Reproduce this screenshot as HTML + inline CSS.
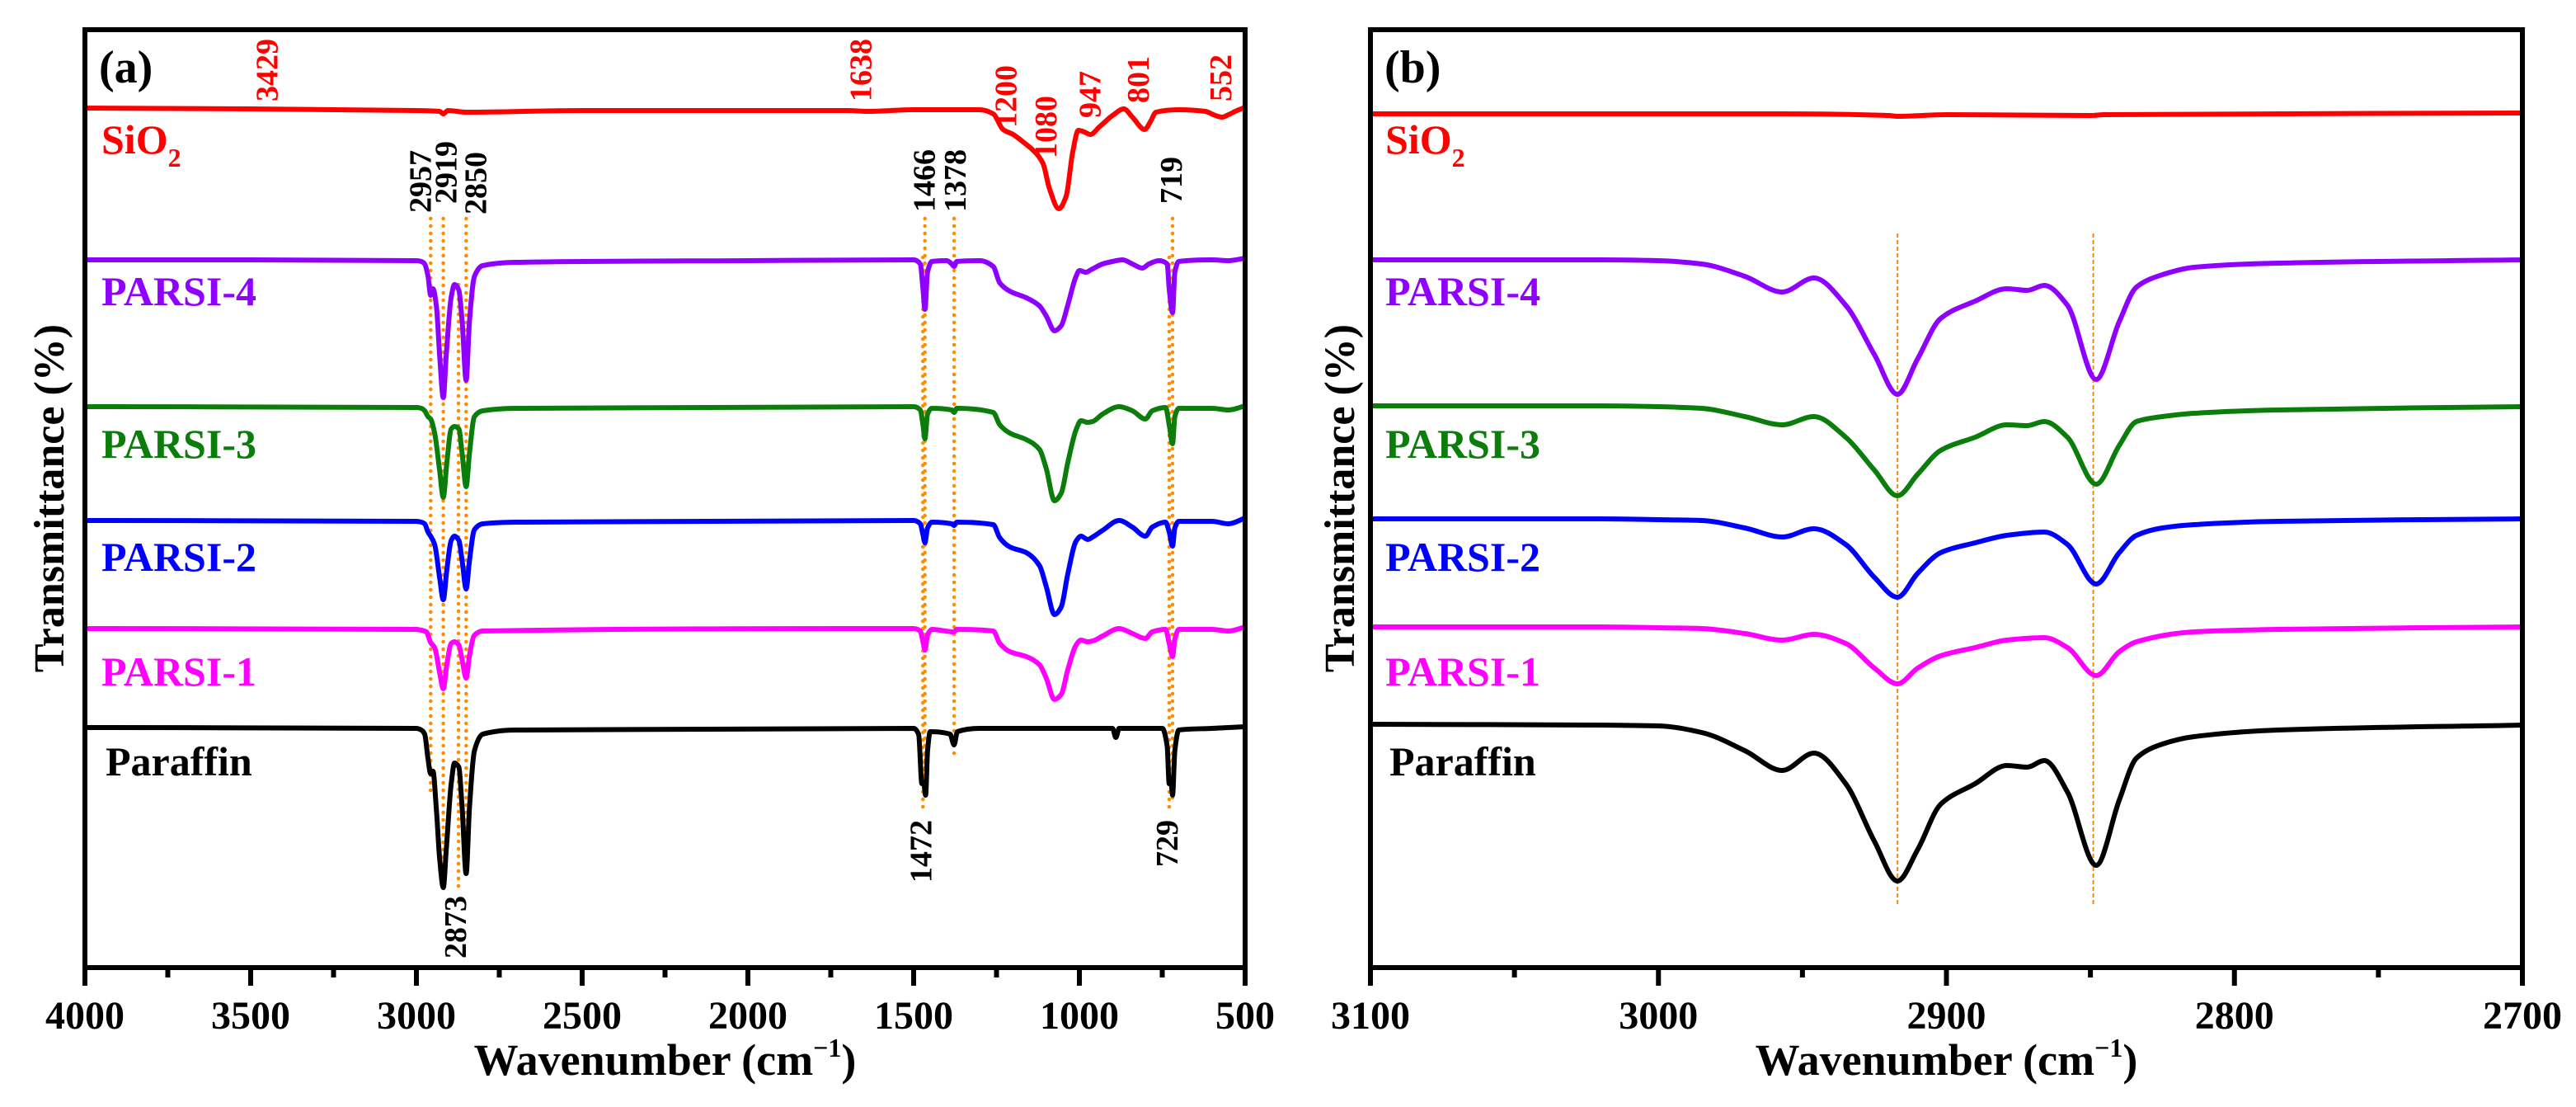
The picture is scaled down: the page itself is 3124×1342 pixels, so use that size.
<!DOCTYPE html>
<html><head><meta charset="utf-8">
<style>
html,body{margin:0;padding:0;background:#fff;}
svg{display:block;font-family:"Liberation Serif","Times New Roman",serif;font-weight:bold;}
</style></head>
<body>
<svg id="chart" width="3124" height="1342" viewBox="0 0 3124 1342" xmlns="http://www.w3.org/2000/svg"></svg>
<script>
// ---- Panel (a) data: [wavenumber, depth below baseline (a.u.)]
const aSeriesNames = ["SiO2","PARSI-4","PARSI-3","PARSI-2","PARSI-1","Paraffin"];
const aOffsets = [1041, 858, 680, 542, 411, 291];
const aSiO2 = [[4000,-1],[3500,0],[3000,2],[2930,3],[2919,6],[2905,2],[2850,4],[2500,2],[2000,2],[1700,2],[1638,3],[1500,1],[1300,1],[1260,6],[1230,25],[1200,31],[1170,40],[1140,50],[1110,66],[1090,97],[1062,121],[1040,106],[1020,52],[1003,26],[985,28],[967,31],[940,22],[900,8],[866,0],[840,10],[803,25],[785,15],[769,4],[700,1],[620,3],[590,8],[570,10],[550,7],[530,3],[500,-2]];
const aP4 = [[4000,0],[3500,0],[3000,1],[2985,2],[2975,5],[2965,20],[2957,43],[2950,35],[2940,55],[2930,115],[2919,167],[2910,115],[2895,45],[2885,30],[2872,37],[2862,75],[2850,146],[2840,75],[2825,20],[2800,7],[2700,3],[2000,1],[1500,0],[1480,5],[1472,35],[1466,60],[1458,15],[1445,2],[1400,1],[1385,5],[1378,8],[1370,2],[1300,1],[1260,8],[1240,28],[1210,38],[1160,46],[1120,56],[1100,68],[1075,86],[1055,80],[1035,55],[1010,20],[1000,13],[980,15],[965,12],[930,5],[900,2],[870,0],[840,5],[810,10],[790,5],[760,1],[735,5],[729,35],[719,64],[712,15],[700,2],[600,0],[550,1],[500,-2]];
const aP3 = [[4000,0],[3000,1],[2985,2],[2975,5],[2965,12],[2957,15],[2945,32],[2930,77],[2919,110],[2908,67],[2895,27],[2885,24],[2872,27],[2862,57],[2850,97],[2840,57],[2825,12],[2800,5],[2700,2],[1500,0],[1480,4],[1472,22],[1466,39],[1458,9],[1445,2],[1385,4],[1378,7],[1370,2],[1260,7],[1240,22],[1210,32],[1160,40],[1120,52],[1100,75],[1075,114],[1055,105],[1035,68],[1010,28],[995,17],[975,19],[960,18],[930,9],[880,0],[840,5],[801,15],[780,5],[740,1],[729,22],[719,45],[712,12],[700,2],[600,2],[550,4],[500,-1]];
const aP2 = [[4000,0],[3000,1],[2985,2],[2975,4],[2965,14],[2957,19],[2945,29],[2930,69],[2919,96],[2908,59],[2895,24],[2885,19],[2872,24],[2862,49],[2850,83],[2840,49],[2825,11],[2800,4],[2700,2],[1500,0],[1480,4],[1472,17],[1466,27],[1458,9],[1445,2],[1385,4],[1378,6],[1370,2],[1260,5],[1240,21],[1210,32],[1160,39],[1120,55],[1100,80],[1075,114],[1055,105],[1035,65],[1010,25],[995,19],[975,23],[960,20],[930,12],[880,0],[840,8],[801,19],[780,8],[740,2],[729,14],[719,31],[712,9],[700,1],[600,1],[550,4],[500,-3]];
const aP1 = [[4000,0],[3000,1],[2985,2],[2970,4],[2957,17],[2945,23],[2930,53],[2919,73],[2908,43],[2895,18],[2885,16],[2872,20],[2862,38],[2850,60],[2840,33],[2825,8],[2800,3],[1500,0],[1480,3],[1472,16],[1466,26],[1458,8],[1445,1],[1378,4],[1370,1],[1260,3],[1240,18],[1210,28],[1160,34],[1120,44],[1100,60],[1075,86],[1055,80],[1035,50],[1010,20],[995,14],[975,16],[960,15],[930,9],[880,0],[840,6],[801,12],[780,4],[740,1],[729,18],[719,34],[712,13],[700,1],[600,1],[550,3],[500,-2]];
const aParaffin = [[4000,0],[3000,1],[2985,3],[2975,8],[2965,38],[2957,56],[2950,53],[2940,98],[2930,158],[2919,194],[2910,148],[2895,68],[2885,43],[2872,48],[2862,98],[2850,177],[2840,98],[2825,28],[2800,8],[2700,3],[1500,1],[1485,8],[1475,68],[1470,66],[1464,82],[1458,28],[1450,5],[1390,8],[1378,21],[1368,5],[1300,1],[900,1],[890,12],[880,1],[750,1],[735,23],[729,68],[724,62],[719,82],[712,28],[700,3],[600,1],[500,-1]];
// ---- Panel (b) data
const bOffsets = [1035, 858, 681, 544, 413, 295];
const bSiO2 = [[3100,0],[2960,0],[2920,2],[2917,3],[2900,1],[2850,2],[2845,1],[2700,-1]];
const bP4 = [[3100,0],[3020,0],[3000,1],[2985,5],[2970,20],[2957,39],[2946,22],[2935,55],[2925,115],[2917,163],[2910,120],[2902,71],[2890,50],[2879,35],[2872,37],[2866,31],[2858,55],[2848,145],[2840,75],[2834,33],[2825,18],[2814,9],[2785,4],[2700,0]];
const bP3 = [[3100,0],[3020,0],[3000,1],[2985,3],[2970,13],[2957,23],[2946,13],[2935,38],[2925,78],[2917,109],[2910,83],[2902,54],[2890,38],[2879,23],[2872,24],[2866,19],[2858,38],[2848,95],[2840,48],[2834,19],[2825,13],[2814,9],[2785,5],[2700,1]];
const bP2 = [[3100,0],[3020,0],[3000,1],[2985,2],[2970,11],[2957,22],[2946,12],[2935,31],[2925,71],[2917,95],[2910,66],[2902,41],[2890,29],[2879,20],[2866,16],[2858,31],[2848,79],[2840,41],[2834,20],[2825,11],[2814,7],[2785,3],[2700,0]];
const bP1 = [[3100,0],[3020,0],[3000,1],[2985,2],[2970,8],[2957,16],[2946,9],[2935,20],[2925,50],[2917,69],[2910,50],[2902,35],[2890,25],[2879,16],[2866,13],[2858,25],[2848,59],[2840,30],[2834,18],[2814,6],[2785,3],[2700,0]];
const bParaffin = [[3100,0],[3020,1],[3000,2],[2985,10],[2970,32],[2957,56],[2946,35],[2935,72],[2925,142],[2917,190],[2910,152],[2902,97],[2890,72],[2879,50],[2872,52],[2866,44],[2858,82],[2848,171],[2840,92],[2834,41],[2825,24],[2814,15],[2785,7],[2700,1]];
// ---- ticks & annotations
const aTicks = [4000,3500,3000,2500,2000,1500,1000,500];
const aMinorTicks = [3750,3250,2750,2250,1750,1250,750];
const bTicks = [3100,3000,2900,2800,2700];
const bMinorTicks = [3050,2950,2850,2750];
const sio2Marks = [[3429,123],[1638,123],[1200,155],[1080,192],[947,143],[801,125],[552,123]];
const topMarks = [[2957,258,-14],[2919,247,2],[2850,260,10],[1466,257,-2],[1378,257,0],[719,247,-3]];
const bottomMarks = [[2873,1086,-5],[1472,994,-4],[729,994,-4]];
const aGuides = [[2957,265,960],[2919,265,1076],[2873,345,1080],[2850,265,1063],[1472,312,986],[1466,265,964],[1378,265,921],[729,312,986],[719,265,968]];
const bGuides = [2917,2849];

const colors = ["#ff0000","#8f00ff","#0a7d0a","#0000ff","#ff00ff","#000000"];
const labelBase = [186,370,555,692,831,940];
const NS="http://www.w3.org/2000/svg";
const svg=document.getElementById('chart');
const TOP=36, BOT=1173;
function yScale(v){return BOT - v;}
function mk(tag,attrs,parent){const e=document.createElementNS(NS,tag);for(const k in attrs)e.setAttribute(k,attrs[k]);(parent||svg).appendChild(e);return e;}
// monotone cubic (Fritsch-Carlson) through points with increasing x
function pathFrom(pts){
  const n=pts.length, dx=[], sl=[], m=[];
  for(let i=0;i<n-1;i++){dx[i]=pts[i+1][0]-pts[i][0];sl[i]=(pts[i+1][1]-pts[i][1])/dx[i];}
  m[0]=sl[0];m[n-1]=sl[n-2];
  for(let i=1;i<n-1;i++){
    if(sl[i-1]*sl[i]<=0)m[i]=0;
    else{const w1=2*dx[i]+dx[i-1],w2=dx[i]+2*dx[i-1];m[i]=(w1+w2)/(w1/sl[i-1]+w2/sl[i]);}
  }
  let d="M"+pts[0][0].toFixed(1)+","+pts[0][1].toFixed(1);
  for(let i=0;i<n-1;i++){
    const h=dx[i]/3;
    d+=" C"+(pts[i][0]+h).toFixed(1)+","+(pts[i][1]+m[i]*h).toFixed(1)+" "+(pts[i+1][0]-h).toFixed(1)+","+(pts[i+1][1]-m[i+1]*h).toFixed(1)+" "+pts[i+1][0].toFixed(1)+","+pts[i+1][1].toFixed(1);
  }
  return d;
}
function panel(cfg){
  const g=mk('g',{});
  
  
  const x=w=>cfg.L+(cfg.w0-w)*(cfg.R-cfg.L)/(cfg.w0-cfg.w1);
  cfg.guides.forEach(gd=>{
    const l=mk('line',{x1:x(gd[0]),x2:x(gd[0]),y1:gd[1],y2:gd[2],stroke:'#ff8c00','stroke-width':cfg.guideW,'stroke-dasharray':cfg.guideDash,'stroke-linecap':cfg.guideCap},g);
    
    
  });
  cfg.series.forEach((s,i)=>{
    const pts=s.map(p=>[x(p[0]),yScale(cfg.offsets[i]-p[1])]);
    const p=mk('path',{d:pathFrom(pts),fill:'none',stroke:colors[i],'stroke-width':6,'stroke-linejoin':'round'},g);
    
    
    const t=mk('text',{x:cfg.labX+(i===5?5:0),y:labelBase[i],fill:colors[i],'font-size':50},g);
    
    
    if(i===0){t.textContent='SiO';const sub=mk('tspan',{'font-size':32,dy:16},t);sub.textContent='2';}
    else t.textContent=aSeriesNames[i];
  });
  const f=mk('rect',{x:cfg.L,y:TOP,width:cfg.R-cfg.L,height:BOT-TOP,fill:'none',stroke:'#000','stroke-width':6},g);
  
  
  cfg.ticks.forEach(v=>{
    const l=mk('line',{x1:x(v),x2:x(v),y1:BOT,y2:BOT+22,stroke:'#000','stroke-width':6},g);
    
    
    const t=mk('text',{x:x(v),y:1247,'text-anchor':'middle','font-size':48},g);
    
    
    t.textContent=v;
  });
  cfg.minor.forEach(v=>{
    const l=mk('line',{x1:x(v),x2:x(v),y1:BOT,y2:BOT+12,stroke:'#000','stroke-width':6},g);
    
    
  });
  const pl=mk('text',{x:cfg.L+17,y:100,'font-size':56},g);
  
  
  pl.textContent=cfg.tag;
  const xt=mk('text',{x:(cfg.L+cfg.R)/2,y:1303,'text-anchor':'middle','font-size':54},g);
  
  
  xt.textContent='Wavenumber (cm';
  const sup=mk('tspan',{'font-size':32,dy:-22},xt);sup.textContent='\u22121';
  const cl=mk('tspan',{dy:22},xt);cl.textContent=')';
  const yt=mk('text',{x:0,y:0,'text-anchor':'middle','font-size':52,transform:'translate('+(cfg.L-cfg.ytOff)+',604) rotate(-90)'},g);
  
  
  yt.textContent='Transmittance (%)';
  return {g,x};
}
const A=panel({name:'panel-a',L:103,R:1510,w0:4000,w1:500,series:[aSiO2,aP4,aP3,aP2,aP1,aParaffin],offsets:aOffsets,guides:aGuides,guideW:4.5,guideDash:'0 9',guideCap:'round',ticks:aTicks,minor:aMinorTicks,labX:123,tag:'(a)',ytOff:26});
const B=panel({name:'panel-b',L:1662,R:3059,w0:3100,w1:2700,series:[bSiO2,bP4,bP3,bP2,bP1,bParaffin],offsets:bOffsets,guides:bGuides.map(v=>[v,283,1096]),guideW:2,guideDash:'5 3',guideCap:'butt',ticks:bTicks,minor:bMinorTicks,labX:1680,tag:'(b)',ytOff:20});
function vlabel(g,xx,bottom,txt,color,size,top){
  const t=mk('text',{x:0,y:0,'font-size':size,fill:color,'text-anchor':top?'end':'start',transform:'translate('+xx+','+bottom+') rotate(-90)'},g);
  
  
  t.textContent=txt;
}
sio2Marks.forEach(m=>vlabel(A.g,A.x(m[0])+4,m[1],String(m[0]),'#ff0000',38,false));
topMarks.forEach(m=>vlabel(A.g,A.x(m[0])+m[2]+14,m[1],String(m[0]),'#000',38,false));
bottomMarks.forEach(m=>vlabel(A.g,A.x(m[0])+m[2]+14,m[1],String(m[0]),'#000',38,true));
</script>
</body></html>
